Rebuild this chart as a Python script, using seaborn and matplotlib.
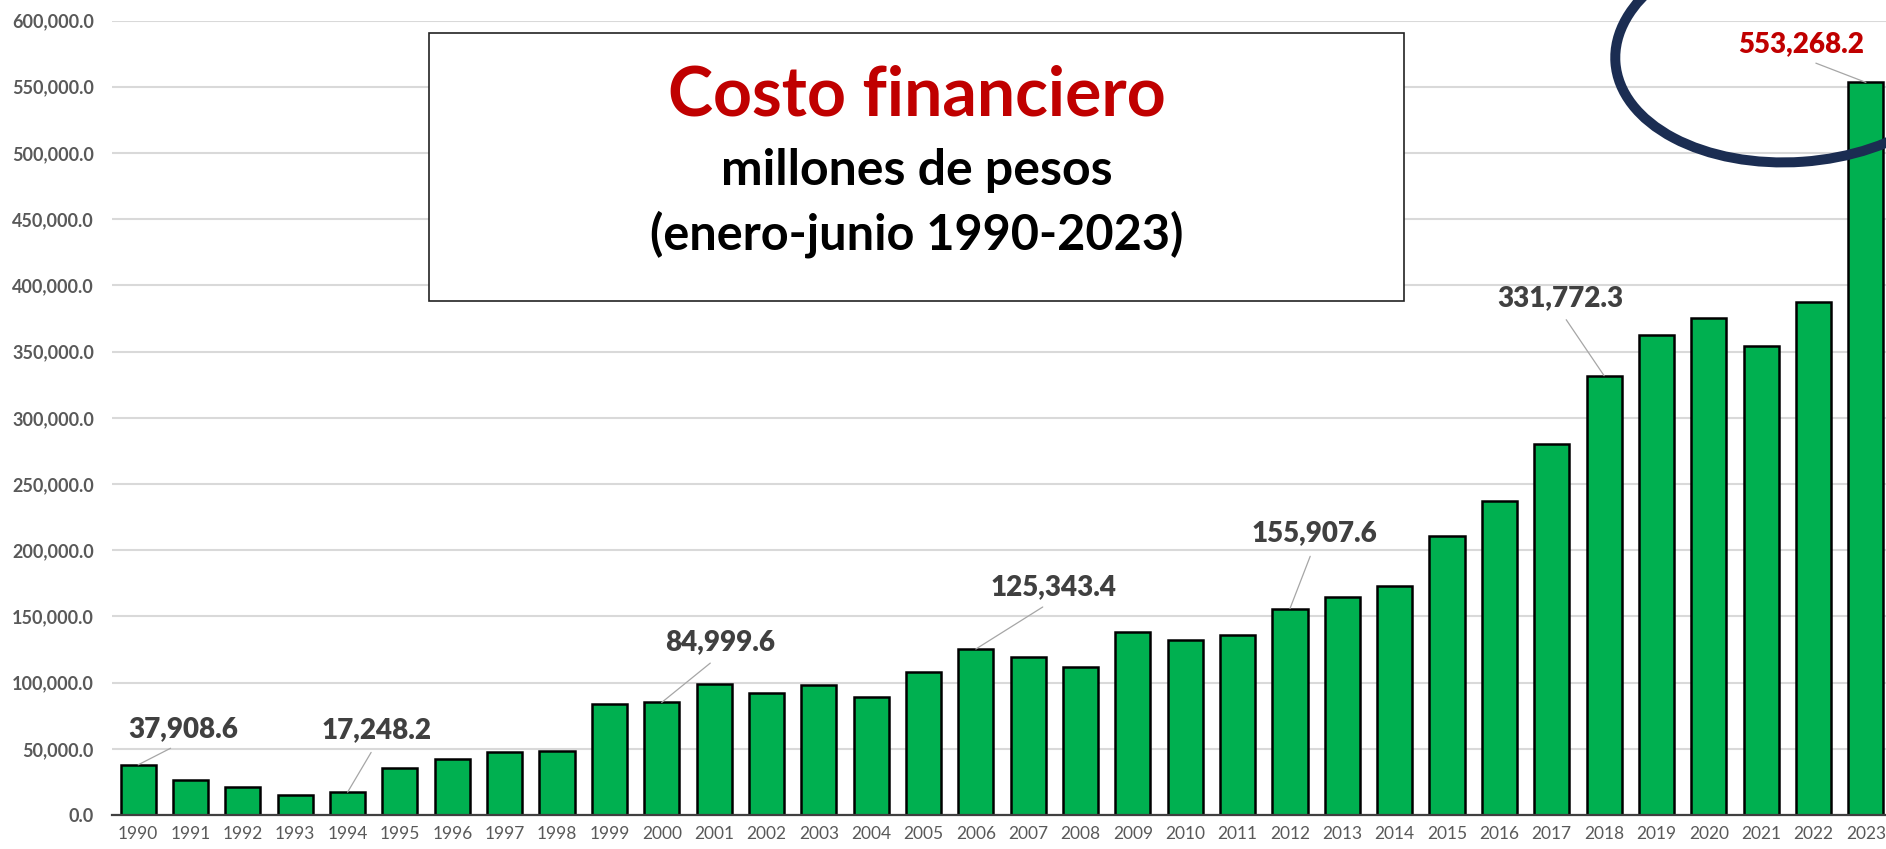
import matplotlib
matplotlib.use('Agg')
import matplotlib.pyplot as plt
import seaborn as sns
import numpy as np
from matplotlib.patches import Ellipse, Rectangle

years = [str(y) for y in range(1990, 2024)]
costo = [37908.6, 26200, 20900, 15200, 17248.2, 35200, 42000, 47700, 48700, 83800,
         84999.6, 98800, 92300, 98000, 89000, 108000, 125343.4, 119000, 111600, 138200,
         132500, 135800, 155907.6, 164500, 172700, 210500, 237400, 280000, 331772.3, 362700,
         375200, 354200, 387700, 553268.2]
labeled_years = ['1990', '1994', '2000', '2006', '2012', '2018', '2023']
y_ticks = list(range(0, 600001, 50000))

title = 'Costo financiero'
subtitle1 = 'millones de pesos'
subtitle2 = '(enero-junio 1990-2023)'

# label offsets from the bar top, in pixels (dx, dy up)
label_offsets = {'1990': (45, 36), '1994': (29, 62), '2000': (58, 60), '2006': (78, 62),
                 '2012': (24, 75), '2018': (-44, 78), '2023': (-65, 38)}

sns.set_style('white')
plt.rcParams['font.family'] = ['Lato', 'DejaVu Sans']

W, H = 1886, 849
fig = plt.figure(figsize=(W / 100, H / 100), dpi=100)
ax = fig.add_axes([112 / W, 34 / H, 1779 / W, 794.5 / H])

sns.barplot(x=years, y=costo, color='#00B050', saturation=1, width=0.67,
            edgecolor='black', linewidth=1.8, ax=ax, zorder=2)

ax.set_ylim(0, 600000)
ax.set_xlim(-0.5, 33.48)
ax.set_yticks(y_ticks, labels=[f'{v:,.1f}' for v in y_ticks], fontweight='bold')
ax.grid(axis='y', color='#d9d9d9', lw=1.5, zorder=0)
ax.set_axisbelow(True)
for s in ['top', 'right', 'left']:
    ax.spines[s].set_visible(False)
ax.spines['bottom'].set_color('#404040')
ax.spines['bottom'].set_linewidth(1.6)
ax.tick_params(axis='y', length=0, pad=13, labelsize=13, labelcolor='#595959')
ax.tick_params(axis='x', length=0, pad=8, labelsize=12.5, labelcolor='#595959')
ax.set_xlabel('')
ax.set_ylabel('')

for yr in labeled_years:
    i = years.index(yr)
    v = costo[i]
    dx, dy = label_offsets[yr]
    col = '#C00000' if yr == '2023' else '#404040'
    ax.annotate(f'{v:,.1f}', xy=(i, v), xytext=(dx, dy), textcoords='offset pixels',
                ha='center', va='center', fontsize=20, fontweight='heavy', color=col,
                zorder=6, annotation_clip=False,
                arrowprops=dict(arrowstyle='-', color='#a6a6a6', lw=0.9,
                                relpos=(0.5, 0), shrinkA=5, shrinkB=0))

# title box
box = Rectangle((429 / W, (H - 300.7) / H), 975 / W, 268 / H, transform=fig.transFigure,
                facecolor='white', edgecolor='#222222', lw=1.2, zorder=4)
fig.add_artist(box)
cx = 916.5 / W
fig.text(cx, (H - 115) / H, title, ha='center', va='baseline', fontsize=49,
         fontweight='bold', color='#C00000', zorder=5)
fig.text(cx, (H - 185) / H, subtitle1, ha='center', va='baseline', fontsize=36,
         fontweight='bold', color='black', zorder=5)
fig.text(cx, (H - 250) / H, subtitle2, ha='center', va='baseline', fontsize=35,
         fontweight='bold', color='black', zorder=5)

# highlight ellipse around the last bar
ell = Ellipse((1795 / 100, (H - 50) / 100), 3.6, 2.24, angle=4,
              transform=fig.dpi_scale_trans, fill=False, edgecolor='#1b2d52',
              lw=7.2, zorder=7, clip_on=False)
fig.add_artist(ell)

fig.savefig('out.png', dpi=100)
